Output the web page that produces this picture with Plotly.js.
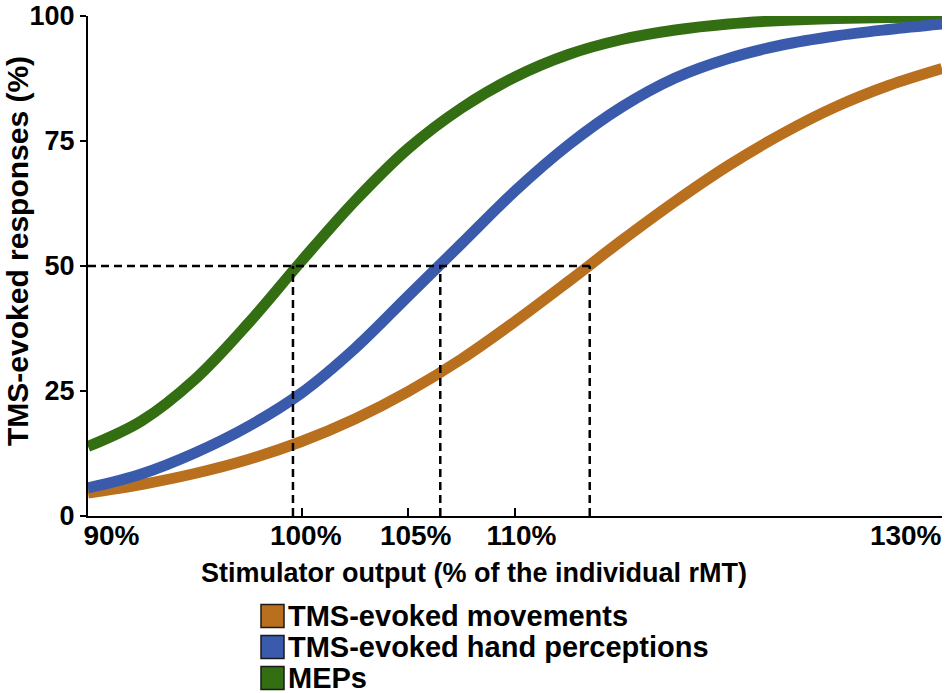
<!DOCTYPE html>
<html>
<head>
<meta charset="utf-8">
<script src="https://cdn.plot.ly/plotly-3.0.1.min.js"></script>
<style>
    html, body { margin: 0; padding: 0; background: #fff; }
    #chart { width: 950px; height: 693px; }
</style>
</head>
<body>
<div id="chart"></div>
<script>
// psychometric curves (% of rMT vs % responses)
const stimOutput = [90, 92.5, 95, 97.5, 100, 102.5, 105, 107.5, 110, 112.5, 115, 117.5, 120, 122.5, 125, 127.5, 130];
const movements = [4.6, 6.3, 8.5, 11.3, 14.9, 19.4, 24.9, 31.4, 38.9, 46.9, 55.1, 62.9, 70.1, 76.4, 81.8, 86.1, 89.5];
const handPerceptions = [5.6, 8.4, 12.6, 17.9, 24.6, 33.5, 44, 54.5, 65, 74.2, 81.8, 87.6, 91.5, 94.2, 96, 97.3, 98.4];
const meps = [13.9, 19, 27.3, 38.5, 51, 63, 73.5, 81.6, 87.8, 92.3, 95.3, 97.2, 98.4, 99.1, 99.5, 99.7, 99.8];

// 50% thresholds (dashed guides)
const thresholdLevel = 50;
const thresholdX = [99.6, 106.5, 113.5];

const seriesNames = ['TMS-evoked movements', 'TMS-evoked hand perceptions', 'MEPs'];
const xTickValues = [90, 100, 105, 110, 130];
const xTickText = ['90%', '100%', '105%', '110%', '130%'];
const yTickValues = [0, 25, 50, 75, 100];

// ---- styling / layout ----
const FONT = 'Liberation Sans, Arial, Helvetica, sans-serif';
const seriesColors = ['#B9701E', '#3A5BAB', '#346E13'];
const seriesY = [movements, handPerceptions, meps];

// page geometry (px)
const M = { l: 88, r: 8, t: 16, b: 177 };
const plotW = 950 - M.l - M.r;
const plotH = 693 - M.t - M.b;
const paperX = (px) => (px - M.l) / plotW;
const paperY = (py) => (693 - M.b - py) / plotH;

// tick labels in the figure sit a little off their tick marks
const labelNudge = [1.1, 0.2, 0.35, 0.3, -1.7];
const xLabelPos = xTickValues.map((v, i) => v + labelNudge[i]);

// draw order: movements, MEPs, then hand perceptions on top
const drawOrder = [0, 2, 1];
const traces = drawOrder.map(i => ({
    x: stimOutput,
    y: seriesY[i],
    name: seriesNames[i],
    type: 'scatter',
    mode: 'lines',
    line: { color: seriesColors[i], width: 11, shape: 'spline', smoothing: 1 },
    showlegend: false,
    hoverinfo: 'x+y+name'
}));

// dashed 50% guides: one horizontal from the axis, verticals down to 0
const guideX = [stimOutput[0], Math.max(...thresholdX), null];
const guideY = [thresholdLevel, thresholdLevel, null];
thresholdX.forEach(v => {
    guideX.push(v, v, null);
    guideY.push(0, thresholdLevel, null);
});
// sits on the label axis (same range as x) so that axis gets drawn
traces.push({
    x: guideX,
    y: guideY,
    xaxis: 'x2',
    type: 'scatter',
    mode: 'lines',
    line: { color: '#000', width: 2.5, dash: '8px,5px' },
    showlegend: false,
    hoverinfo: 'skip'
});

// hand-drawn legend with square swatches
const legendRows = [616, 647, 678];
const shapes = seriesNames.map((n, i) => ({
    type: 'rect',
    xref: 'paper', yref: 'paper',
    x0: paperX(261), x1: paperX(284),
    y0: paperY(legendRows[i] + 11.5), y1: paperY(legendRows[i] - 11.5),
    fillcolor: seriesColors[i],
    line: { color: '#1a1a1a', width: 1.5 }
}));
const annotations = seriesNames.map((n, i) => ({
    text: n,
    xref: 'paper', yref: 'paper',
    x: paperX(286), y: paperY(legendRows[i]),
    xanchor: 'left', yanchor: 'middle',
    showarrow: false,
    font: { family: FONT, size: 29, weight: 'bold', color: '#000' }
}));

// axis titles placed where the figure has them
annotations.push({
    text: 'Stimulator output (% of the individual rMT)',
    xref: 'paper', yref: 'paper',
    x: paperX(474), y: paperY(573),
    xanchor: 'center', yanchor: 'middle',
    showarrow: false,
    font: { family: FONT, size: 27, weight: 'bold', color: '#000' }
});
annotations.push({
    text: 'TMS-evoked responses (%)',
    xref: 'paper', yref: 'paper',
    x: paperX(17), y: paperY(251),
    xanchor: 'center', yanchor: 'middle',
    textangle: -90,
    showarrow: false,
    font: { family: FONT, size: 30, weight: 'bold', color: '#000' }
});

const layout = {
    width: 950,
    height: 693,
    margin: M,
    paper_bgcolor: '#fff',
    plot_bgcolor: '#fff',
    font: { family: FONT, color: '#000' },
    showlegend: false,
    xaxis: {
        range: [90, 130],
        tickvals: xTickValues,
        showticklabels: false,
        ticks: 'inside',
        ticklen: 8,
        tickwidth: 2,
        tickcolor: '#000',
        showline: true,
        linecolor: '#000',
        linewidth: 2,
        showgrid: false,
        zeroline: false,
        fixedrange: true
    },
    // label-only axis so the tick text can sit where the figure puts it
    xaxis2: {
        overlaying: 'x',
        anchor: 'y',
        side: 'bottom',
        range: [90, 130],
        tickvals: xLabelPos,
        ticktext: xTickText,
        ticks: '',
        showline: false,
        showgrid: false,
        zeroline: false,
        ticklabeloverflow: 'allow',
        tickfont: { family: FONT, size: 28, weight: 'bold', color: '#000' },
        fixedrange: true
    },
    yaxis: {
        range: [0, 100],
        tickvals: yTickValues,
        ticks: 'outside',
        ticklen: 6,
        tickwidth: 2,
        tickcolor: '#000',
        showline: true,
        linecolor: '#000',
        linewidth: 2,
        showgrid: false,
        zeroline: false,
        ticklabeloverflow: 'allow',
        tickfont: { family: FONT, size: 27, weight: 'bold', color: '#000' },
        fixedrange: true
    },
    shapes: shapes,
    annotations: annotations
};

Plotly.newPlot('chart', traces, layout, { displayModeBar: false, staticPlot: true });
</script>
</body>
</html>
